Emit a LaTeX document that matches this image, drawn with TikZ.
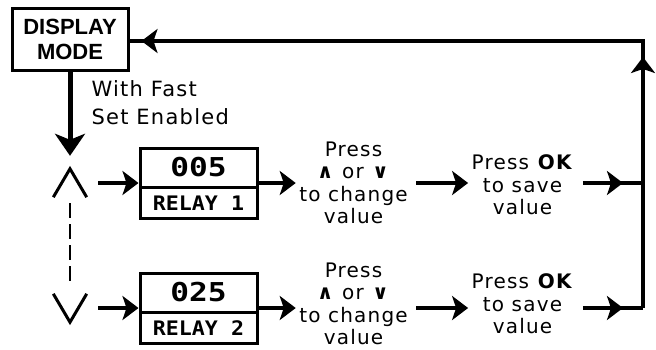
\documentclass[tikz,border=0pt]{standalone}
\usepackage{fontspec}
\setmainfont{DejaVu Sans}[LetterSpace=6]
\newfontfamily\headfont{Liberation Sans}
\newfontfamily\lcdfont{DejaVu Sans Mono}
\usetikzlibrary{arrows.meta,positioning,shapes.multipart,decorations.markings}

\newcommand{\lcdval}[1]{\rule[-9pt]{0pt}{36pt}\scalebox{1.2}[1]{\lcdfont\bfseries\fontsize{26}{26}\selectfont #1}}
\newcommand{\lcdname}[1]{\rule[-6.5pt]{0pt}{28pt}\scalebox{1.08}[1]{\lcdfont\bfseries\fontsize{20}{20}\selectfont #1}}

\begin{document}
\begin{tikzpicture}[x=1pt,y=-1pt,on grid,
   every node/.style={font=\fontsize{20}{22.5}\selectfont,align=center},
   flow/.tip={Stealth[length=16pt,width=24pt,inset=4pt]},
   arr/.style={-flow,line width=4.5pt},
   midarr/.style={line width=4.5pt,postaction={decorate},
     decoration={markings,mark=at position -20pt with {\arrow{flow}}}},
   backline/.style={line width=4.5pt,postaction={decorate},
     decoration={markings,mark=at position 251pt with {\arrow{flow}},
                 mark=at position -12pt with {\arrow{flow}}}},
   modebox/.style={draw,line width=3pt,minimum width=116pt,minimum height=62pt,
     font=\headfont\bfseries\fontsize{22}{25}\selectfont},
   relay/.style={draw,line width=3pt,rectangle split,rectangle split parts=2,
     minimum width=117pt,inner ysep=0pt},
   chev/.style={minimum width=33pt,minimum height=28pt,inner sep=0pt},
   caret/.style={line width=3pt}]
   \useasboundingbox (0,0) rectangle (656,349);

   \node[modebox] (dm) at (70,39) {DISPLAY\\MODE};
   \node[anchor=west,align=left,font=\fontsize{21}{28}\selectfont] (fast) at (88,103) {With Fast\\Set Enabled};

   \node[chev] (up) at (70,183) {};
   \node[chev] (dn) at (70,308) {};
   \draw[caret] (up.south west) -- (up.north) -- (up.south east);
   \draw[caret] (dn.north west) -- (dn.south) -- (dn.north east);

   \node[relay] (r1) at (198.5,183) {\lcdval{005}\nodepart{two}\lcdname{RELAY 1}};
   \node[relay] (r2) [below=125pt of r1] {\lcdval{025}\nodepart{two}\lcdname{RELAY 2}};
   \node (p1) [right=155pt of r1] {Press\\\textbf{∧} or \textbf{∨}\\to change\\value};
   \node (p2) [right=155pt of r2,yshift=4pt] {Press\\\textbf{∧} or \textbf{∨}\\to change\\value};
   \node (ok1) [right=169pt of p1,yshift=-2pt] {Press \textbf{OK}\\to save\\value};
   \node (ok2) [right=169pt of p2] {Press \textbf{OK}\\to save\\value};

   \coordinate (j1) at (643,183);
   \coordinate (j2) at (643,308);
   \coordinate (tr) at (643,41);

   \draw[-{Stealth[length=22pt,width=30pt,inset=6pt]},line width=5pt,shorten >=13pt] (dm) -- (up);
   \draw[line width=2pt,dash pattern=on 15pt off 6pt,shorten <=6pt,shorten >=9pt] (up) -- (dn);
   \draw[arr,shorten <=11.5pt] (up) -- (r1);
   \draw[arr,shorten <=11.5pt] (dn) -- (r2);
   \draw[arr] (r1) -- (r1 -| p1.west);
   \draw[arr] (r2) -- (r2 -| p2.west);
   \draw[arr,shorten <=5pt] (r1 -| p1.east) -- (r1 -| ok1.west);
   \draw[arr,shorten <=5pt] (r2 -| p2.east) -- (r2 -| ok2.west);
   \draw[midarr,shorten <=6pt] (ok1.east |- j1) -- (j1);
   \draw[midarr,shorten <=6pt] (ok2.east |- j2) -- (j2);
   \draw[backline] (j2) -- (tr) -- (tr -| dm.east);
\end{tikzpicture}
\end{document}
